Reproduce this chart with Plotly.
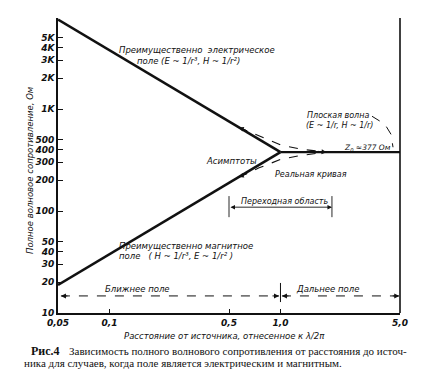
import math
import plotly.graph_objects as go

# ---- data ----
R_ASYM = [0.05, 1.0]                 # r / (lambda/2pi)
Z_ELECTRIC = [7540, 377]             # Z ~ 1/r
Z_MAGNETIC = [18.85, 377]            # Z ~ r
R_PLANE = [1.0, 5.0]
Z_PLANE = [377, 377]
R_REAL = [0.57, 0.75, 1.0, 1.3, 1.86]
Z_REAL_UPPER = [660, 540, 445, 405, 377]
Z_REAL_LOWER = [215, 265, 320, 350, 377]
R_LEADER = [3.43, 4.08, 4.43, 4.55]   # leader from "Плоская волна"
Z_LEADER = [849, 709, 565, 422]
R_TRANSITION = [0.5, 2.0]
Z_TRANSITION = 109
Z_TRANS_TICK = [87, 140]
R_NEAR = [0.052, 0.98]
R_FAR = [1.02, 4.95]
Z_ZONE = 14.7
Z_ZONE_TICK = [12.8, 19.7]

Y_TICKS = [10, 20, 30, 40, 50, 100, 200, 300, 400, 500, 1000, 2000, 3000, 4000, 5000]
Y_TICKTEXT = ["10", "20", "30", "40", "50", "100", "200", "300", "400", "500",
              "1K", "2K", "3K", "4K", "5K"]
X_TICKS = [0.05, 0.1, 0.5, 1.0, 5.0]
X_TICKTEXT = ["0,05", "0,1", "0,5", "1,0", "5,0"]

L = math.log10
BLACK = "#111111"
LBL = dict(family="DejaVu Sans", size=8.5, color=BLACK, style="italic")
LBL_S = dict(LBL, size=8)

# page is drawn with an 8px body margin; plot area sits at page x 58..400, y 18..313
OFF = 8
FIG_W, FIG_H = 425 - OFF, 385 - OFF
PL, PT, PW, PH = 58, 18, 342, 295

fig = go.Figure()


def line(x, y, width=1.0, dash="solid"):
    fig.add_trace(go.Scatter(x=x, y=y, mode="lines", hoverinfo="skip",
                             line=dict(color=BLACK, width=width, dash=dash),
                             showlegend=False))


line(R_ASYM, Z_ELECTRIC, 2.6)
line(R_ASYM, Z_MAGNETIC, 2.6)
line(R_PLANE, Z_PLANE, 2.2)
line(R_REAL, Z_REAL_UPPER, 1.1, "dash")
line(R_REAL, Z_REAL_LOWER, 1.1, "dash")
line(R_LEADER, Z_LEADER, 1.0, "dash")
for r in R_TRANSITION:
    line([r, r], Z_TRANS_TICK, 0.9)
line(R_NEAR, [Z_ZONE, Z_ZONE], 1.0, "dash")
line(R_FAR, [Z_ZONE, Z_ZONE], 1.0, "dash")
line([1.0, 1.0], Z_ZONE_TICK, 1.0)

ann = []


def head(x, y, ax, ay):
    ann.append(dict(x=L(x), y=L(y), xref="x", yref="y", ax=ax, ay=ay, text="",
                    showarrow=True, arrowhead=2, arrowsize=1, arrowwidth=1,
                    arrowcolor=BLACK, standoff=0))


head(R_REAL[0], Z_REAL_UPPER[0], 10, 4)
head(R_REAL[0], Z_REAL_LOWER[0], 10, -4)
head(R_REAL[-1], Z_REAL_UPPER[-1], -10, -1)
head(R_NEAR[0], Z_ZONE, 8, 0)
head(R_NEAR[1], Z_ZONE, -8, 0)
head(R_FAR[0], Z_ZONE, 8, 0)
head(R_FAR[1], Z_ZONE, -8, 0)
# transition double arrow
ann.append(dict(x=L(R_TRANSITION[1]), y=L(Z_TRANSITION), ax=L(R_TRANSITION[0]),
                ay=L(Z_TRANSITION), xref="x", yref="y", axref="x", ayref="y",
                text="", showarrow=True, arrowhead=2, startarrowhead=2,
                arrowside="end+start", arrowwidth=0.9, arrowcolor=BLACK,
                standoff=0, startstandoff=0))


def px(v):
    return (v - PL) / PW


def py(v):
    return (PT + PH - v) / PH


def text(t, x, y, xa="left", font=LBL, ya="middle"):
    ann.append(dict(text=t, x=px(x), y=py(y), xref="paper", yref="paper",
                    showarrow=False, xanchor=xa, yanchor=ya, font=font,
                    borderpad=0))


text("Преимущественно  электрическое", 118, 50)
text("поле (E ~ 1/r³, H ~ 1/r²)", 136, 61)
text("Плоская волна", 306, 115, font=LBL_S)
text("(E ~ 1/r, H ~ 1/r)", 305, 125, font=LBL_S)
text("Z<sub>0</sub> ≈377 Ом", 343, 148, font=dict(LBL, size=7.5))
text("Асимптоты", 205, 161)
text("Реальная кривая", 274, 174, font=LBL_S)
text("Переходная область", 240, 202, font=LBL_S)
text("Преимущественно магнитное", 118, 246)
text("поле   ( H ~ 1/r³, E ~ 1/r² )", 118, 256)
text("Ближнее поле", 104, 289)
text("Дальнее поле", 295, 289)
text("Расстояние от источника, отнесенное к λ/2π", 224, 336, xa="center",
     font=dict(family="DejaVu Sans", size=8.5, color=BLACK, style="italic"))
ann.append(dict(text="Полное волновое сопротивление, Ом", x=px(30), y=py(170),
                xref="paper", yref="paper", showarrow=False, textangle=-90,
                xanchor="center", yanchor="middle",
                font=dict(family="DejaVu Sans", size=8.5, color=BLACK, style="italic")))
CAP = dict(family="Liberation Serif", size=11, color=BLACK)
text("<b>Рис.4</b>", 30, 351, font=dict(family="Liberation Serif", size=12, color=BLACK))
text("Зависимость полного волнового сопротивления от расстояния до источ-", 68, 351, font=CAP)
text("ника для случаев, когда поле является электрическим и магнитным.", 23, 363, font=CAP)

fig.update_layout(
    width=FIG_W, height=FIG_H,
    margin=dict(l=PL - OFF, r=FIG_W - (PL - OFF) - PW, t=PT - OFF,
                b=FIG_H - (PT - OFF) - PH),
    paper_bgcolor="white", plot_bgcolor="white",
    annotations=ann,
    shapes=[dict(type="line", xref="paper", yref="paper", x0=1, x1=1, y0=0, y1=1,
                 line=dict(color=BLACK, width=1.6))],
)
fig.update_xaxes(type="log", range=[L(0.05), L(5.0)], tickvals=X_TICKS,
                 ticktext=X_TICKTEXT, ticks="inside", ticklen=4, tickcolor=BLACK,
                 showgrid=False, zeroline=False, showline=True, linecolor=BLACK,
                 linewidth=1.6,
                 tickfont=dict(family="DejaVu Sans", size=9, color=BLACK,
                               style="italic", weight="bold"))
fig.update_yaxes(type="log", range=[1, 1 + PH / 102], tickvals=Y_TICKS,
                 ticktext=Y_TICKTEXT, ticks="inside", ticklen=5, tickcolor=BLACK,
                 showgrid=False, zeroline=False, showline=True, linecolor=BLACK,
                 linewidth=1.6,
                 tickfont=dict(family="DejaVu Sans", size=9, color=BLACK,
                               style="italic", weight="bold"))

fig.write_html("out.html", config={"displayModeBar": False})
